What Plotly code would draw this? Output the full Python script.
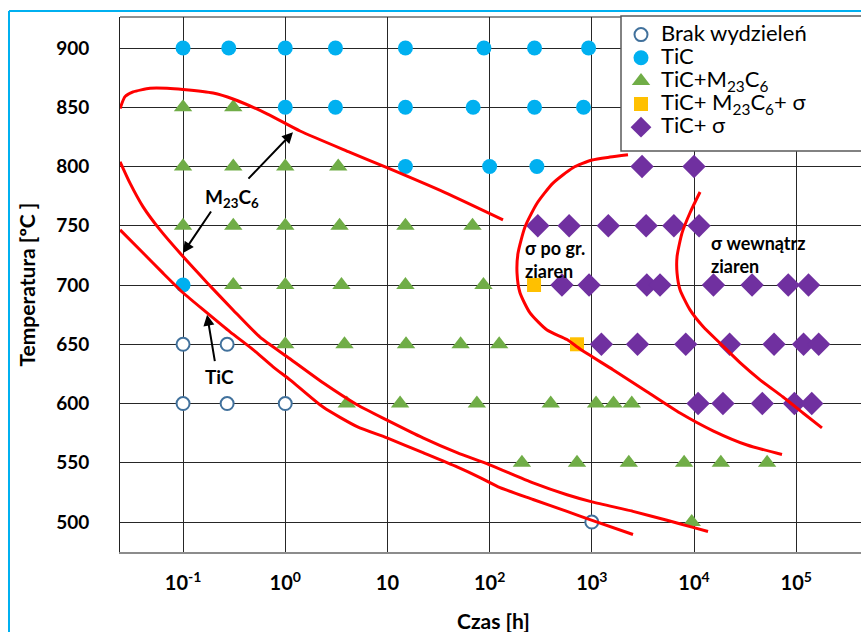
import plotly.graph_objects as go

# ---------------- data ----------------
# Brak wydzieleń (open circles)
brak_t = [0.1, 0.27, 0.1, 0.27, 1, 1000]
brak_T = [650, 650, 600, 600, 600, 500]

# TiC (filled blue circles)
tic_t = [0.1, 0.28, 1, 3.1, 15, 88, 275, 930,
         1, 3.1, 15, 69, 275, 830,
         15, 100, 290,
         0.1]
tic_T = [900] * 8 + [850] * 6 + [800] * 3 + [700]

# TiC+M23C6 (green triangles)
m23_t = [0.1, 0.31,
         0.1, 0.31, 1, 3.3,
         0.1, 0.31, 1, 3.4, 15, 68,
         0.31, 1, 3.55, 15, 87,
         1, 3.8, 15.2, 52, 124,
         4.0, 13.3, 75, 396, 1100, 1630, 2460,
         207, 716, 2300, 8000, 18300, 51900,
         9500]
m23_T = ([850] * 2 + [800] * 4 + [750] * 6 + [700] * 5 + [650] * 5 +
         [600] * 7 + [550] * 6 + [500])

# TiC+M23C6+sigma (orange squares)
m23s_t = [272, 716]
m23s_T = [700, 650]

# TiC+sigma (purple diamonds)
sig_t = [3100, 10000,
         296, 600, 1450, 3400, 6350, 11200,
         510, 940, 3450, 4650, 15500, 37000, 83600, 132000,
         1240, 2800, 8300, 22300, 60700, 118000, 166000,
         10960, 19200, 46600, 96000, 142000]
sig_T = [800] * 2 + [750] * 6 + [700] * 8 + [650] * 7 + [600] * 5

# Red boundary curves (log10 of time [h], temperature [°C])
c_m23_upper_logt = [-1.616, -1.568, -1.489, -1.323, -1.157, -1.0, -0.706, -0.511,
                    -0.178, 0.145, 0.634, 0.996, 1.564, 2.131]
c_m23_upper_T = [849, 859, 863, 866, 866, 865, 862, 857, 844.5, 830, 812, 799, 778, 755]

c_m23_lower_logt = [-1.616, -1.519, -1.391, -1.225, -1.0, -0.765, -0.511, -0.247, 0.018,
                    0.370, 0.703, 0.996, 1.348, 1.681, 1.994, 2.425, 2.757, 3.002,
                    3.403, 3.736, 3.990, 4.137]
c_m23_lower_T = [804, 786, 766, 746.5, 724, 702, 679, 656, 639.5, 617.5, 599, 586, 571,
                 558.5, 548.5, 533, 523, 517, 509, 501.5, 495.5, 492]

c_tic_logt = [-1.616, -1.391, -1.196, -1.0, -0.765, -0.540, -0.315, -0.119, 0.047,
              0.370, 0.703, 0.996, 1.348, 1.681, 1.906, 2.102, 2.425, 2.757, 2.982, 3.403]
c_tic_T = [746.5, 727, 710, 693.5, 676.5, 660.5, 645.5, 631, 620, 597, 580.5, 571,
           558.5, 546.5, 537.5, 529, 519, 509, 502, 489.5]

c_sgb_logt = [3.354, 3.178, 3.002, 2.816, 2.620, 2.464, 2.346, 2.278, 2.268, 2.297,
              2.395, 2.562, 2.757, 2.885, 3.207, 3.540, 3.863, 4.186, 4.519, 4.861]
c_sgb_T = [810, 808, 805.5, 799, 786, 769, 749, 727, 710, 693.5, 676.5, 662, 654, 646,
           628.5, 610, 592, 577, 565, 557]

c_sin_logt = [4.059, 3.961, 3.883, 3.834, 3.834, 3.863, 3.961, 4.088, 4.254, 4.450,
              4.646, 4.871, 5.067, 5.252]
c_sin_T = [778.5, 761, 744, 724, 710, 696, 679, 665, 651, 634.5, 620, 605.5, 592, 579.5]

x_tickvals = [0.1, 1, 10, 100, 1000, 10000, 100000]
x_ticktext = ["10<sup>-1</sup>", "10<sup>0</sup>", "10", "10<sup>2</sup>",
              "10<sup>3</sup>", "10<sup>4</sup>", "10<sup>5</sup>"]
y_tickvals = [500, 550, 600, 650, 700, 750, 800, 850, 900]

FONT = "Lato"


def big(s):
    return "<span style='font-size:22px'>" + s + "</span>"


fig = go.Figure()

fig.add_trace(go.Scatter(x=brak_t, y=brak_T, mode="markers", name=big("Brak wydzieleń"),
                         marker=dict(symbol="circle", size=13, color="white",
                                     line=dict(color="#41719C", width=2))))
fig.add_trace(go.Scatter(x=tic_t, y=tic_T, mode="markers", name=big("TiC"),
                         marker=dict(symbol="circle", size=15, color="#00B0F0",
                                     line=dict(width=0))))
fig.add_trace(go.Scatter(x=m23_t, y=m23_T, mode="markers",
                         name=big("TiC+M<sub>23</sub>C<sub>6</sub>"),
                         marker=dict(symbol="triangle-up", size=16, color="#70AD47",
                                     line=dict(width=0))))
fig.add_trace(go.Scatter(x=m23s_t, y=m23s_T, mode="markers",
                         name=big("TiC+ M<sub>23</sub>C<sub>6</sub>+ σ"),
                         marker=dict(symbol="square", size=14, color="#FFC000",
                                     line=dict(width=0))))
fig.add_trace(go.Scatter(x=sig_t, y=sig_T, mode="markers", name=big("TiC+ σ"),
                         marker=dict(symbol="diamond", size=18, color="#7030A0",
                                     line=dict(width=0))))

for lx, ly in [(c_m23_upper_logt, c_m23_upper_T), (c_m23_lower_logt, c_m23_lower_T),
               (c_tic_logt, c_tic_T), (c_sgb_logt, c_sgb_T), (c_sin_logt, c_sin_T)]:
    fig.add_trace(go.Scatter(x=[10 ** v for v in lx], y=ly, mode="lines",
                             line=dict(color="#FF0000", width=3, shape="spline",
                                       smoothing=0.6),
                             showlegend=False, hoverinfo="skip"))

# annotations: arrows (head in data coords: log10 time, temperature)
arrows = [(0.076, 829, -46, 48), (-1.0, 727, 29, -43), (-0.765, 675, 8, 48)]
anns = []
for hx, hy, ax, ay in arrows:
    anns.append(dict(x=hx, y=hy, xref="x", yref="y", ax=ax, ay=ay, text="",
                     showarrow=True, arrowhead=2, arrowsize=1.1, arrowwidth=2,
                     arrowcolor="black"))
lab = dict(family=FONT, size=19, color="black")
ttl = dict(family=FONT, size=21, color="black")
anns += [
    dict(x=-0.525, y=773.5, xref="x", yref="y", text="<b>M<sub>23</sub>C<sub>6</sub></b>",
         showarrow=False, font=lab),
    dict(x=-0.648, y=622.5, xref="x", yref="y", text="<b>TiC</b>", showarrow=False, font=lab),
    dict(x=2.327, y=721.5, xref="x", yref="y", text="<b>σ po gr.<br>ziaren</b>",
         showarrow=False, font=dict(family=FONT, size=18, color="black"),
         xanchor="left", yanchor="middle", align="left"),
    dict(x=4.147, y=725.5, xref="x", yref="y", text="<b>σ wewnątrz<br>ziaren</b>",
         showarrow=False, font=dict(family=FONT, size=18, color="black"),
         xanchor="left", yanchor="middle", align="left"),
    dict(x=(493 - 120) / 741, y=(552 - 620) / 535, xref="paper", yref="paper",
         text="<b>Czas [h]</b>", showarrow=False, font=ttl,
         xanchor="center", yanchor="middle"),
    dict(x=(26 - 120) / 741, y=0.5, xref="paper", yref="paper",
         text="<b>Temperatura [ºC ]</b>", showarrow=False, font=ttl, textangle=-90,
         xanchor="center", yanchor="middle"),
]

shapes = [
    # blue outer frame
    dict(type="line", xref="paper", yref="paper", x0=(9 - 120) / 741, x1=(9 - 120) / 741,
         y0=(552 - 11) / 535, y1=-0.2, line=dict(color="#00B0F0", width=2)),
    dict(type="line", xref="paper", yref="paper", x0=(9 - 120) / 741, x1=1.02,
         y0=(552 - 11) / 535, y1=(552 - 11) / 535, line=dict(color="#00B0F0", width=2)),
    # top plot border
    dict(type="line", xref="paper", yref="paper", x0=0, x1=1, y0=1, y1=1,
         line=dict(color="#222222", width=1)),
    # legend box
    dict(type="rect", xref="paper", yref="paper", x0=(621 - 120) / 741, x1=1.05,
         y0=(552 - 151) / 535, y1=(552 - 16) / 535, fillcolor="white",
         line=dict(color="#595959", width=1.5), layer="above"),
]

fig.update_layout(
    width=861, height=632,
    margin=dict(l=120, r=0, t=17, b=80),
    paper_bgcolor="white", plot_bgcolor="white",
    font=dict(family=FONT, color="black"),
    showlegend=True,
    legend=dict(x=(621 - 120) / 741, y=(552 - 18) / 535, xanchor="left", yanchor="top",
                bgcolor="rgba(0,0,0,0)", borderwidth=0,
                font=dict(family=FONT, size=15.5, color="black"),
                tracegroupgap=0, itemsizing="trace"),
    annotations=anns,
    shapes=shapes,
)
fig.update_xaxes(type="log", range=[-1.617, 5.634], tickvals=x_tickvals, ticktext=x_ticktext,
                 showgrid=True, gridcolor="#262626", gridwidth=1, zeroline=False,
                 showline=True, linecolor="#8C8C8C", linewidth=2, ticks="",
                 ticklabelstandoff=12,
                 tickfont=dict(family=FONT, size=20, color="black", weight="bold"))
fig.update_yaxes(range=[474.7, 926.2], tickvals=y_tickvals,
                 showgrid=True, gridcolor="#262626", gridwidth=1, zeroline=False,
                 showline=True, linecolor="#222222", linewidth=1, ticks="",
                 ticklabelstandoff=26,
                 tickfont=dict(family=FONT, size=19, color="black", weight="bold"))

fig.write_html("out.html", config={"displayModeBar": False},
               post_script="document.body.style.margin='0';document.body.style.overflow='hidden';")
